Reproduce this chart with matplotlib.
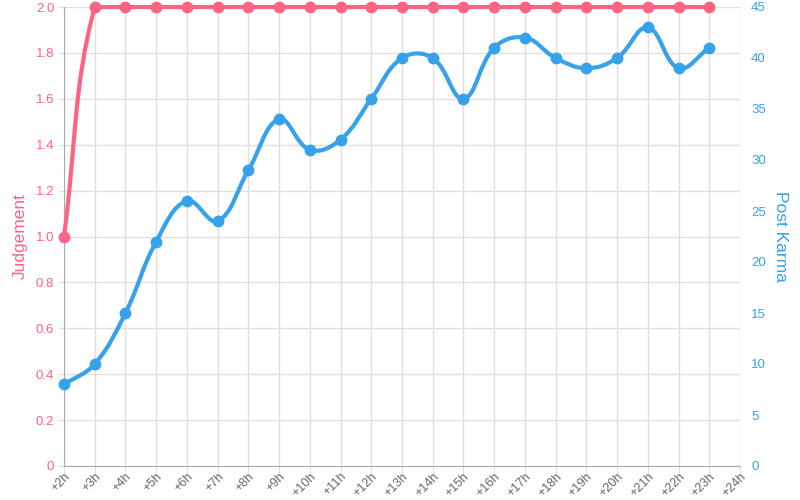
import numpy as np
import matplotlib
matplotlib.use("Agg")
import matplotlib.pyplot as plt
from matplotlib.path import Path
from matplotlib.patches import PathPatch

plt.rcParams['font.family'] = ['Liberation Sans', 'DejaVu Sans']

# data
labels = ['+2h', '+3h', '+4h', '+5h', '+6h', '+7h', '+8h', '+9h', '+10h', '+11h', '+12h',
          '+13h', '+14h', '+15h', '+16h', '+17h', '+18h', '+19h', '+20h', '+21h', '+22h',
          '+23h', '+24h']
judgement = [1.0, 2.0, 2.0, 2.0, 2.0, 2.0, 2.0, 2.0, 2.0, 2.0, 2.0,
             2.0, 2.0, 2.0, 2.0, 2.0, 2.0, 2.0, 2.0, 2.0, 2.0, 2.0]
karma = [8, 10, 15, 22, 26, 24, 29, 34, 31, 32, 36,
         40, 40, 36, 41, 42, 40, 39, 40, 43, 39, 41]

PINK = '#ff6384'
BLUE = '#36a2eb'
GRID = '#e0e0e0'
ZERO = '#ababab'


# courbe lissee comme chart.js (tension 0.4), calculee en pixels
def spline_path(xs, ys, sx, sy, ymin, ymax, t=0.4):
    px = np.asarray(xs, float) * sx
    py = np.asarray(ys, float) * sy
    n = len(px)
    cps = []
    for i in range(n):
        a = max(i - 1, 0)
        b = min(i + 1, n - 1)
        d01 = np.hypot(px[i] - px[a], py[i] - py[a])
        d12 = np.hypot(px[b] - px[i], py[b] - py[i])
        tot = d01 + d12
        s01 = d01 / tot if tot else 0
        s12 = d12 / tot if tot else 0
        fa, fb = t * s01, t * s12
        prev = (px[i] - fa * (px[b] - px[a]), py[i] - fa * (py[b] - py[a]))
        nxt = (px[i] + fb * (px[b] - px[a]), py[i] + fb * (py[b] - py[a]))
        cps.append((prev, nxt))

    def cap(p):
        return (p[0] / sx, min(max(p[1] / sy, ymin), ymax))

    verts = [(xs[0], ys[0])]
    codes = [Path.MOVETO]
    for i in range(1, n):
        verts += [cap(cps[i - 1][1]), cap(cps[i][0]), (xs[i], ys[i])]
        codes += [Path.CURVE4] * 3
    return Path(verts, codes)


fig = plt.figure(figsize=(8, 5), dpi=100)
ax = fig.add_axes([0.08, 0.068, 0.845, 0.918])
ax2 = ax.twinx()

x = np.arange(len(judgement))
sx = 676 / 22

ax.set_xlim(0, len(labels) - 1)
ax.set_ylim(0, 2.0)
ax2.set_ylim(0, 45)

# ligne Judgement
p1 = spline_path(x, judgement, sx, 459 / 2.0, 0, 2.0)
ax.add_patch(PathPatch(p1, fill=False, edgecolor=PINK, lw=3, clip_on=False, zorder=3))
ax.plot(x, judgement, 'o', color=PINK, ms=7.5, clip_on=False, zorder=4)

# ligne Post Karma
p2 = spline_path(x, karma, sx, 459 / 45, 0, 45)
ax2.add_patch(PathPatch(p2, fill=False, edgecolor=BLUE, lw=3, clip_on=False, zorder=3))
ax2.plot(x, karma, 'o', color=BLUE, ms=7.5, clip_on=False, zorder=4)

# axes
ax.set_xticks(np.arange(len(labels)))
ax.set_xticklabels(labels, rotation=45, ha='right', rotation_mode='anchor')
ax.set_yticks(np.arange(0, 2.01, 0.2))
ax.set_yticklabels(['0'] + ['%.1f' % v for v in np.arange(0.2, 2.01, 0.2)])
ax2.set_yticks(np.arange(0, 46, 5))

ax.grid(True, color=GRID, lw=1)
ax.set_axisbelow(True)
for s in ['top', 'right']:
    ax.spines[s].set_visible(False)
for s in ['top', 'left', 'bottom', 'right']:
    ax2.spines[s].set_visible(False)
ax.spines['left'].set_color(ZERO)
ax.spines['bottom'].set_color(ZERO)

ax.tick_params(axis='x', colors='#666666', labelsize=9, length=6, pad=-3, color=GRID)
ax.tick_params(axis='y', colors=PINK, labelsize=9.5, length=4, pad=3, color=GRID)
ax2.tick_params(axis='y', colors=BLUE, labelsize=9.5, length=0, pad=8)

ax.set_ylabel('Judgement', color=PINK, fontsize=12.5, labelpad=6)
ax2.set_ylabel('Post Karma', color=BLUE, fontsize=12.5, rotation=-90, labelpad=16)

fig.savefig('out.png', dpi=100)
